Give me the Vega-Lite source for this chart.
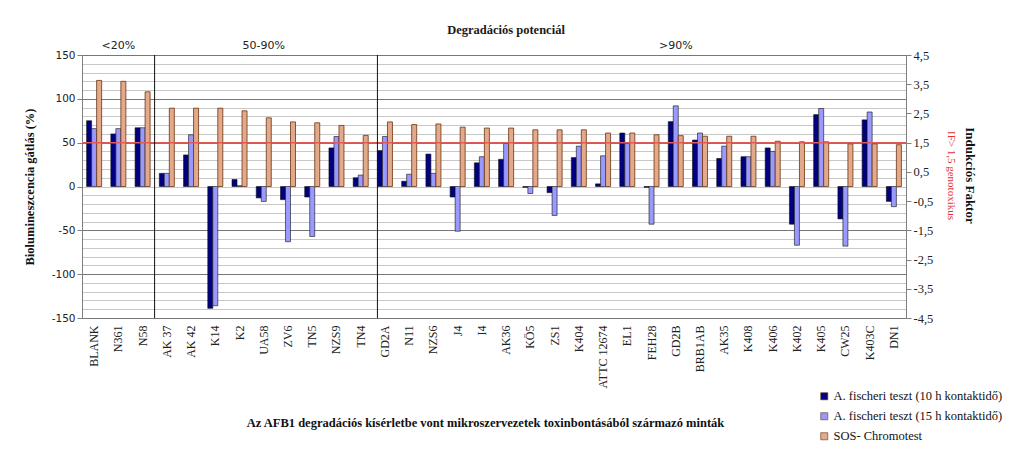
{
  "$schema": "https://vega.github.io/schema/vega-lite/v6.json",
  "width": 824,
  "height": 263,
  "autosize": {"type": "none"},
  "padding": {"left": 82, "top": 55, "right": 118, "bottom": 138},
  "background": "white",
  "title": {"text": "Degradációs potenciál", "font": "Liberation Serif", "fontSize": 12.5, "fontWeight": "bold", "color": "#1a1a1a", "dx": 12, "offset": 4},
  "config": {"view": {"stroke": "#808080"}, "legend": {"labelFont": "Liberation Serif", "labelFontSize": 12.5, "labelColor": "#111111"}},
  "data": {"values": [
    {"cat": "BLANK", "t10": 75, "t15": 66, "sos": 3.63},
    {"cat": "N361", "t10": 60, "t15": 66, "sos": 3.6},
    {"cat": "N58", "t10": 67, "t15": 67, "sos": 3.24},
    {"cat": "AK 37", "t10": 15, "t15": 15, "sos": 2.68},
    {"cat": "AK 42", "t10": 36, "t15": 59, "sos": 2.68},
    {"cat": "K14", "t10": -139, "t15": -136, "sos": 2.68},
    {"cat": "K2", "t10": 8, "t15": 1, "sos": 2.59},
    {"cat": "UA58", "t10": -13, "t15": -17, "sos": 2.35},
    {"cat": "ZV6", "t10": -15, "t15": -63, "sos": 2.21},
    {"cat": "TN5", "t10": -12, "t15": -57, "sos": 2.18},
    {"cat": "NZS9", "t10": 44, "t15": 57, "sos": 2.09},
    {"cat": "TN4", "t10": 10, "t15": 13, "sos": 1.75},
    {"cat": "GD2A", "t10": 41, "t15": 57, "sos": 2.21},
    {"cat": "N11", "t10": 6, "t15": 14, "sos": 2.12},
    {"cat": "NZS6", "t10": 37, "t15": 15, "sos": 2.14},
    {"cat": "J4", "t10": -12, "t15": -51, "sos": 2.03},
    {"cat": "I4", "t10": 27, "t15": 34, "sos": 2.0},
    {"cat": "AK36", "t10": 31, "t15": 49, "sos": 2.0},
    {"cat": "KÖ5", "t10": -1, "t15": -8, "sos": 1.94},
    {"cat": "ZS1", "t10": -7, "t15": -33, "sos": 1.94},
    {"cat": "K404", "t10": 33, "t15": 46, "sos": 1.94},
    {"cat": "ATTC 12674", "t10": 3, "t15": 35, "sos": 1.83},
    {"cat": "EL1", "t10": 61, "t15": 49, "sos": 1.83},
    {"cat": "FEH28", "t10": -1, "t15": -43, "sos": 1.77},
    {"cat": "GD2B", "t10": 74, "t15": 92, "sos": 1.74},
    {"cat": "BRB1AB", "t10": 53, "t15": 61, "sos": 1.72},
    {"cat": "AK35", "t10": 32, "t15": 46, "sos": 1.72},
    {"cat": "K408", "t10": 34, "t15": 34, "sos": 1.72},
    {"cat": "K406", "t10": 44, "t15": 40, "sos": 1.55},
    {"cat": "K402", "t10": -43, "t15": -67, "sos": 1.53},
    {"cat": "K405", "t10": 82, "t15": 89, "sos": 1.53},
    {"cat": "CW25", "t10": -37, "t15": -68, "sos": 1.46},
    {"cat": "K403C", "t10": 76, "t15": 85, "sos": 1.46},
    {"cat": "DN1", "t10": -17, "t15": -23, "sos": 1.43}
  ]},
  "layer": [
    {
      "transform": [{"fold": ["t10", "t15"], "as": ["series", "val"]}],
      "mark": {"type": "bar", "stroke": "#111111", "strokeWidth": 0.6},
      "encoding": {
        "x": {"field": "cat", "type": "nominal", "sort": null,
          "scale": {"domain": ["BLANK","N361","N58","AK 37","AK 42","K14","K2","UA58","ZV6","TN5","NZS9","TN4","GD2A","N11","NZS6","J4","I4","AK36","KÖ5","ZS1","K404","ATTC 12674","EL1","FEH28","GD2B","BRB1AB","AK35","K408","K406","K402","K405","CW25","K403C","DN1"], "paddingInner": 0.38, "paddingOuter": 0.19},
          "axis": {"title": "Az AFB1 degradációs kísérletbe vont mikroszervezetek toxinbontásából származó minták", "labelAngle": -90, "labelFont": "Liberation Serif", "labelFontSize": 12, "labelColor": "#222222", "ticks": false, "domain": false, "grid": false, "labelPadding": 7, "titleFont": "Liberation Serif", "titleFontSize": 12.5, "titleFontWeight": "bold", "titleColor": "#111111", "titlePadding": 28, "titleX": 403}},
        "xOffset": {"field": "series", "type": "nominal", "scale": {"domain": ["t10", "t15", "sos"], "paddingInner": 0}},
        "y": {"field": "val", "type": "quantitative",
          "scale": {"domain": [-150, 150], "nice": false},
          "axis": {"orient": "left", "values": [-150,-140,-130,-120,-110,-100,-90,-80,-70,-60,-50,-40,-30,-20,-10,0,10,20,30,40,50,60,70,80,90,100,110,120,130,140,150],
            "labelExpr": "datum.value % 50 === 0 ? toString(datum.value) : ''",
            "labelFont": "DejaVu Sans", "labelFontSize": 10.5, "labelColor": "#222222", "labelOverlap": false, "labelFlush": false, "labelBound": false,
            "tickColor": "#808080", "tickSize": 5,
            "tickOpacity": {"condition": {"test": "datum.value % 50 === 0", "value": 1}, "value": 0},
            "grid": true,
            "gridColor": {"condition": {"test": "datum.value % 50 === 0 && datum.value !== 0", "value": "#777777"}, "value": "#c8c8c8"},
            "domainColor": "#808080",
            "title": "Biolumineszcencia gátlás (%)", "titleFont": "Liberation Serif", "titleFontSize": 12.5, "titleFontWeight": "bold", "titleColor": "#111111", "titlePadding": 15}},
        "color": {"field": "series", "type": "nominal",
          "scale": {"domain": ["t10", "t15", "sos"], "range": ["#000080", "#9999FF", "#E2A98A"]},
          "legend": {"orient": "none", "legendX": 736, "legendY": 335, "title": null,
            "labelExpr": "datum.label === 't10' ? 'A. fischeri teszt (10 h kontaktidő)' : datum.label === 't15' ? 'A. fischeri teszt (15 h kontaktidő)' : 'SOS- Chromotest'",
            "labelFont": "Liberation Serif", "labelFontSize": 12.5, "labelColor": "#111111", "symbolType": "square", "symbolSize": 50, "symbolStrokeColor": "#333333", "symbolStrokeWidth": 0.6, "rowPadding": 7, "labelLimit": 300, "labelOffset": 3}}
      }
    },
    {
      "transform": [{"fold": ["sos"], "as": ["series", "val"]}],
      "mark": {"type": "bar", "stroke": "#6b3311", "strokeWidth": 0.8},
      "encoding": {
        "x": {"field": "cat", "type": "nominal", "sort": null},
        "xOffset": {"field": "series", "type": "nominal"},
        "y": {"field": "val", "type": "quantitative",
          "scale": {"domain": [-4.5, 4.5], "nice": false},
          "axis": {"orient": "right", "values": [-4.5,-3.5,-2.5,-1.5,-0.5,0.5,1.5,2.5,3.5,4.5],
            "labelExpr": "replace(toString(datum.value), '.', ',')",
            "labelFont": "Liberation Serif", "labelFontSize": 12.5, "labelColor": "#222222", "labelOverlap": false, "labelFlush": false, "labelBound": false,
            "grid": false, "tickSize": 5, "tickColor": "#808080", "domainColor": "#808080",
            "title": "IF> 1,5 genotoxikus", "titleColor": "#E03535", "titleFont": "Liberation Serif", "titleFontSize": 11, "titleFontWeight": "normal", "titlePadding": 13, "titleY": 120}},
        "color": {"field": "series", "type": "nominal"}
      }
    },
    {
      "data": {"values": [{"IF": 1.5}]},
      "mark": {"type": "rule", "color": "#E05A5A", "strokeWidth": 1.5},
      "encoding": {
        "y": {"field": "IF", "type": "quantitative",
          "scale": {"domain": [-4.5, 4.5], "nice": false},
          "axis": {"orient": "right", "labels": false, "ticks": false, "domain": false, "grid": false,
            "title": "Indukciós Faktor", "titleFont": "Liberation Serif", "titleFontSize": 13, "titleFontWeight": "bold", "titleColor": "#111111", "titlePadding": 56, "titleY": 120}}
      }
    },
    {
      "data": {"values": [{"sep": "N58"}]},
      "mark": {"type": "rule", "color": "#111111", "strokeWidth": 1},
      "encoding": {"x": {"field": "sep", "type": "nominal", "bandPosition": 1.3}}
    },
    {
      "data": {"values": [{"sep": "GD2A"}]},
      "mark": {"type": "rule", "color": "#111111", "strokeWidth": 1},
      "encoding": {"x": {"field": "sep", "type": "nominal", "bandPosition": 0}}
    },
    {
      "data": {"values": [{"cat": "N361", "lab": "<20%", "top": 150}, {"cat": "UA58", "lab": "50-90%", "top": 150}, {"cat": "GD2B", "lab": ">90%", "top": 150}]},
      "mark": {"type": "text", "baseline": "bottom", "dy": -4, "font": "DejaVu Sans", "fontSize": 11, "color": "#222222"},
      "encoding": {
        "x": {"field": "cat", "type": "nominal"},
        "y": {"field": "top", "type": "quantitative", "scale": {"domain": [-150, 150], "nice": false}, "axis": null},
        "text": {"field": "lab"}
      }
    }
  ],
  "resolve": {"scale": {"y": "independent"}, "axis": {"y": "independent"}}
}
